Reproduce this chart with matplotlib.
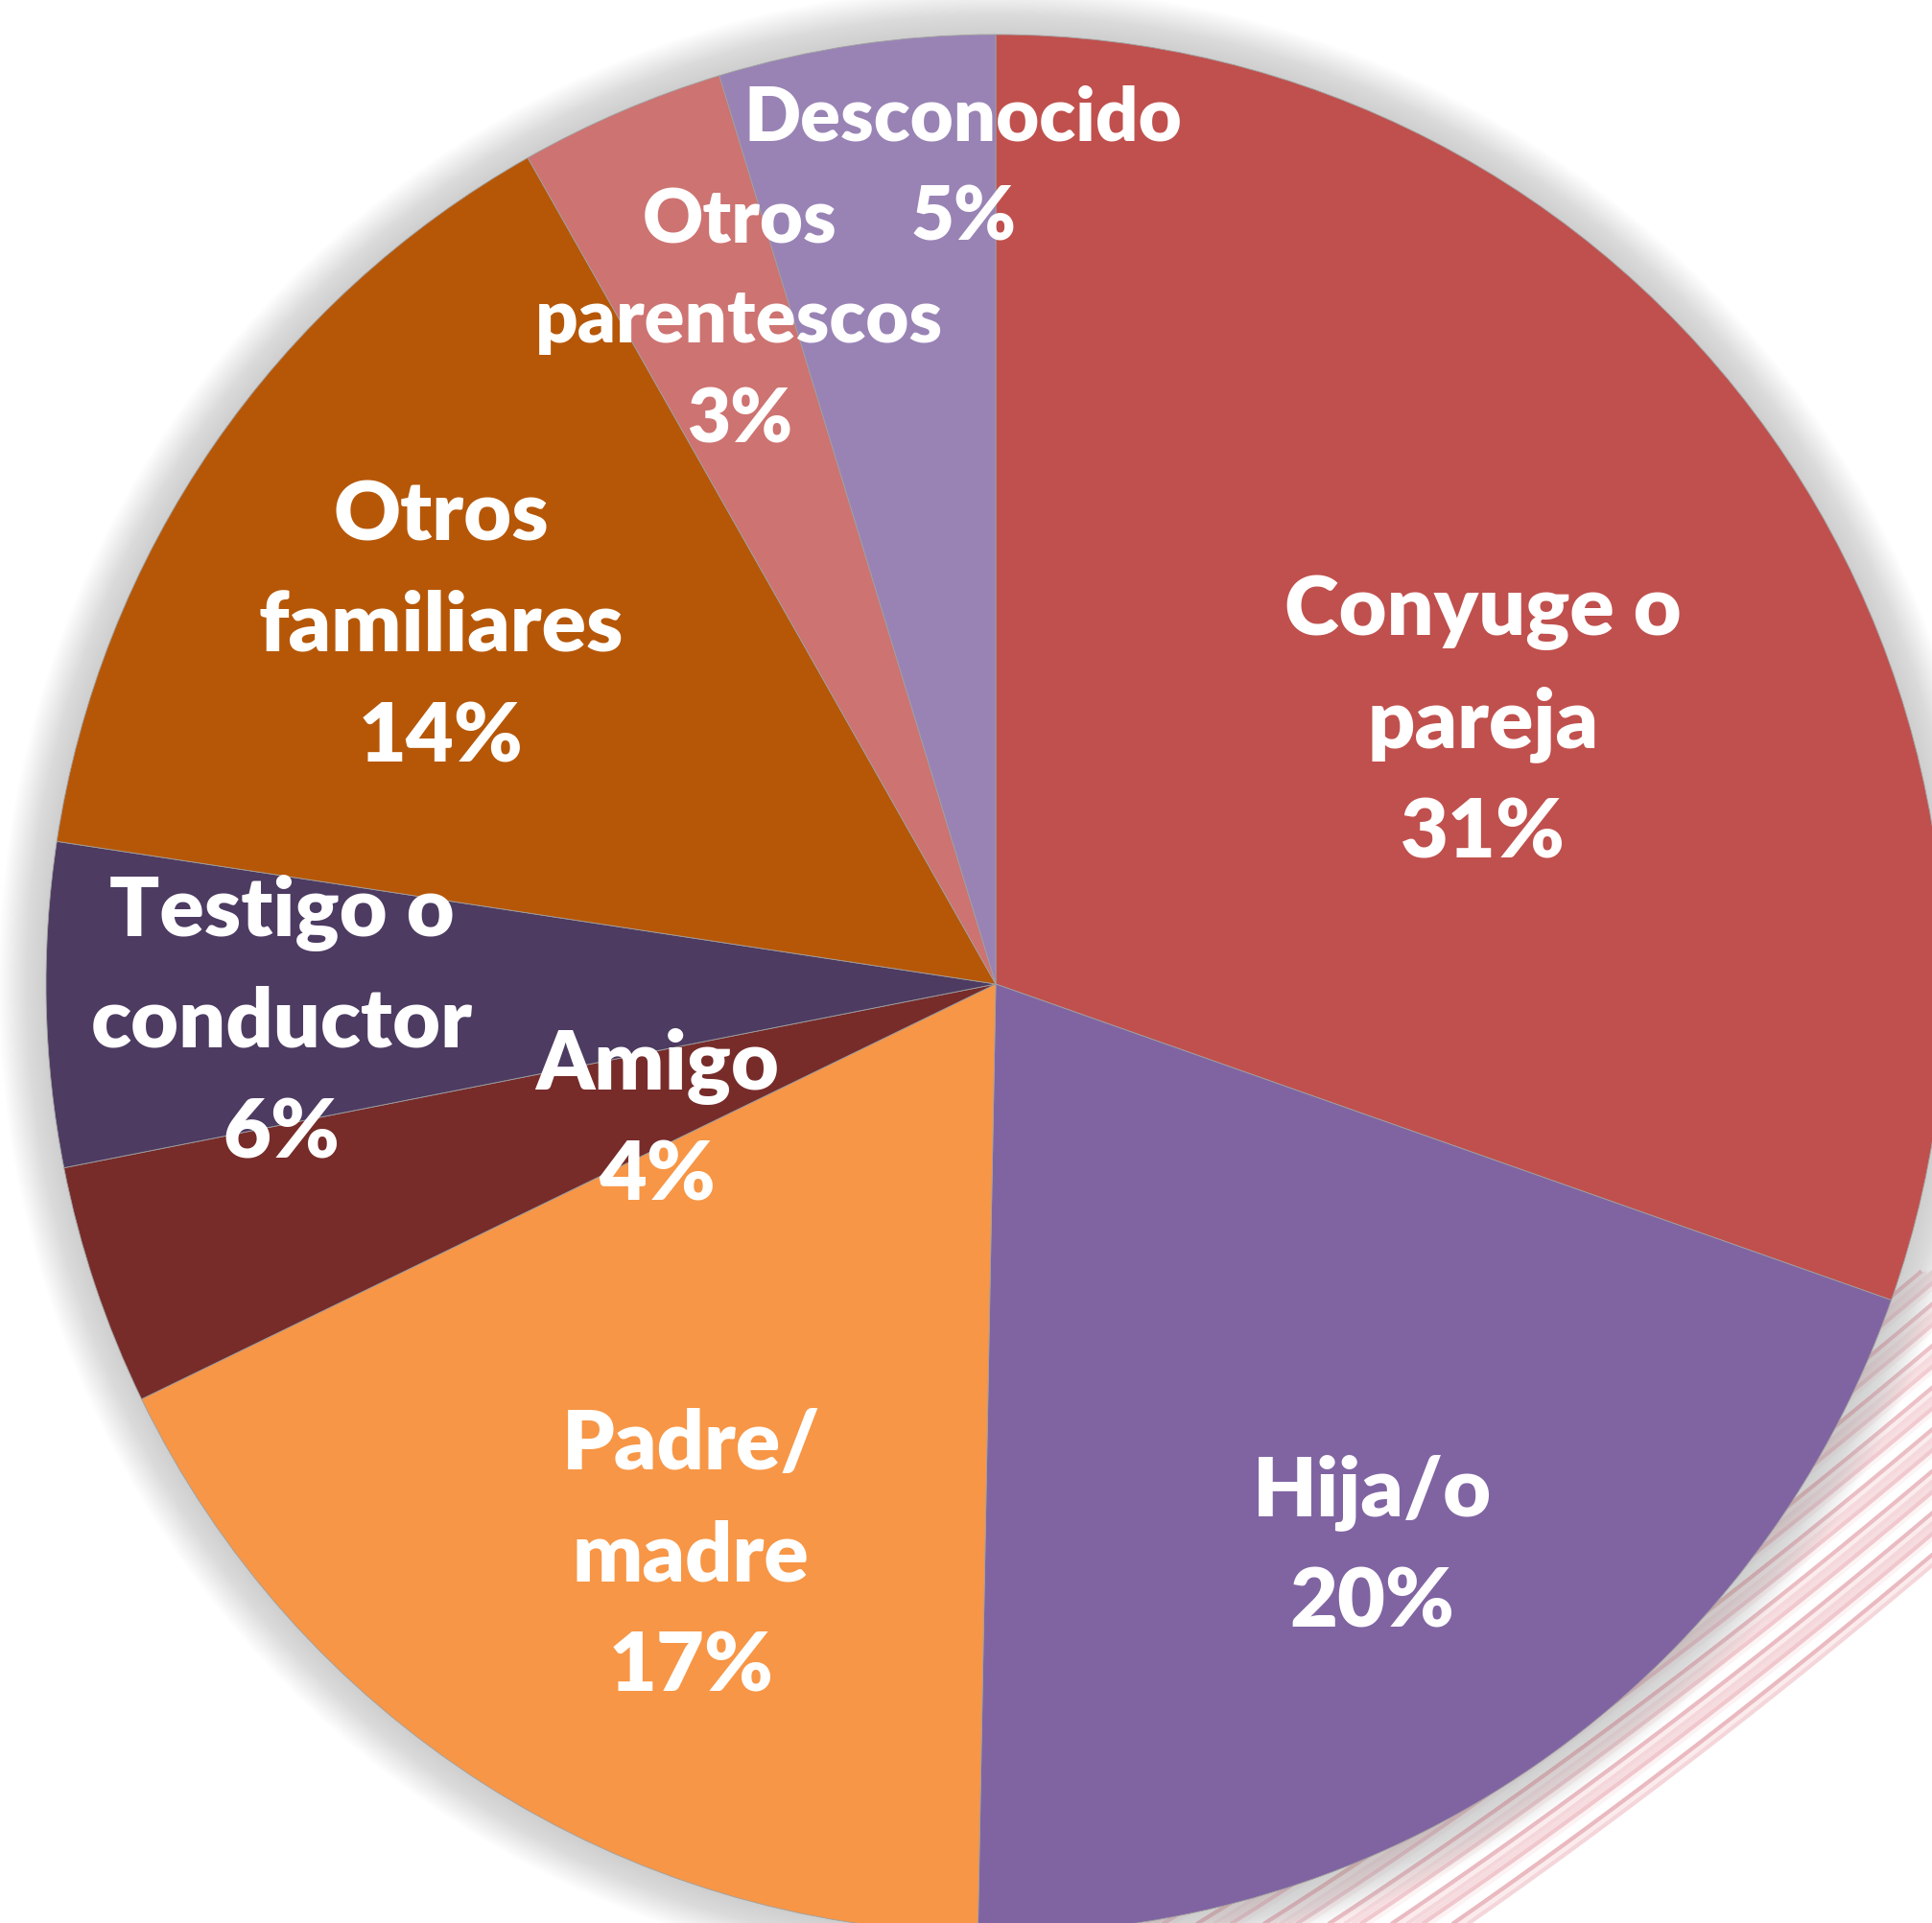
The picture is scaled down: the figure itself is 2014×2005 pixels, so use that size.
import matplotlib.pyplot as plt
import matplotlib
from matplotlib.patches import Circle
import numpy as np

matplotlib.rcParams['font.family'] = ['Lato', 'DejaVu Sans']

# shares of each slice, clockwise from 12 o'clock
categories = ['Conyuge o pareja', 'Hija/o', 'Padre/madre', 'Amigo',
              'Testigo o conductor', 'Otros familiares', 'Otros parentescos', 'Desconocido']
shares = [30.4, 19.9, 17.5, 4.1, 5.5, 14.4, 3.5, 4.7]
pct_labels = ['31%', '20%', '17%', '4%', '6%', '14%', '3%', '5%']
label_text = ['Conyuge o\npareja', 'Hija/o', 'Padre/\nmadre', 'Amigo',
              'Testigo o\nconductor', 'Otros\nfamiliares', 'Otros\nparentescos', 'Desconocido']

colors = ['#C0504D', '#8064A2', '#F79646', '#772C2A',
          '#4D3B62', '#B65708', '#CD7371', '#9983B5']

# label placement (data coords, pie radius = 1)
label_x = [0.513, 0.396, -0.321, -0.356, -0.752, -0.584, -0.270, -0.034]
label_y = [0.283, -0.585, -0.595, -0.136, -0.033, 0.384, 0.706, 0.866]
label_size = [62, 62, 62, 62, 62, 62, 56, 56]
line_pitch = [0.117, 0.117, 0.117, 0.117, 0.117, 0.117, 0.105, 0.105]

W, H = 2015, 2006
cx, cy, R = 1038, 1027, 990

fig = plt.figure(figsize=(W / 100, H / 100), dpi=100)
ax = fig.add_axes([0, 0, 1, 1])
ax.axis('off')

# pink streaks in the lower right corner of the background
x = np.linspace(0.0, 1.0, 200)
shades = ['#f4d4d8', '#ffffff', '#efc3c9', '#fbeaec', '#ffffff', '#f6dadd', '#e9b6bd', '#fdf3f4']
for k in range(170):
    c = k * 0.0055
    y = -1.3 + c + 0.55 * x + 0.15 * x ** 2
    y = np.where(y < -0.3, y, np.nan)
    ax.plot(x, y, color=shades[(k * 3) % len(shades)], lw=3.2,
            alpha=0.5 + 0.45 * (1 - k / 170), zorder=0.5, solid_capstyle='butt')

# soft shadow around the pie
for i in range(30):
    ax.add_patch(Circle((0, 0), 1.0 + 0.05 * (1 - i / 30), color='#a8a8a8',
                        alpha=0.018, lw=0, zorder=1))

wedges, _ = ax.pie(shares, colors=colors, startangle=90, counterclock=False,
                   radius=1.0, wedgeprops=dict(linewidth=0.6, edgecolor='#a0a0a0'))
for w in wedges:
    w.set_zorder(2)

for txt, pct, lx, ly, s, p in zip(label_text, pct_labels, label_x, label_y,
                                  label_size, line_pitch):
    lines = txt.split('\n') + [pct]
    top = ly + (len(lines) - 1) / 2 * p
    for i, line in enumerate(lines):
        ax.text(lx, top - i * p, line, ha='center', va='center_baseline',
                color='white', fontsize=s, fontweight='heavy', zorder=3)

ax.set_xlim(-cx / R, (W - cx) / R)
ax.set_ylim(-(H - cy) / R, cy / R)
ax.set_aspect('equal')

fig.savefig('out.png', dpi=100, facecolor='white')
